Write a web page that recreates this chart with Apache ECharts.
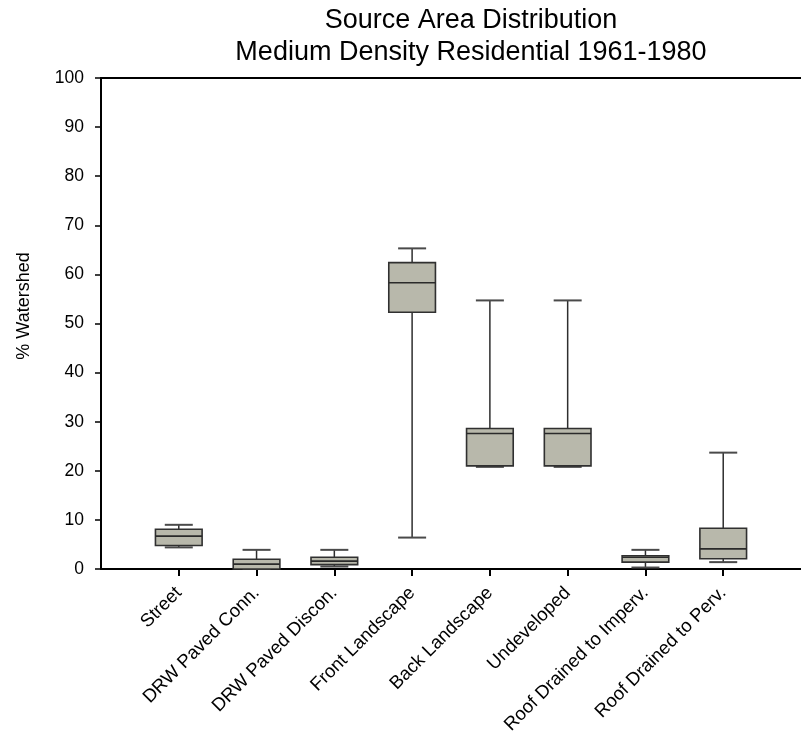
<!DOCTYPE html>
<html>
<head>
<meta charset="utf-8">
<script src="https://cdn.jsdelivr.net/npm/echarts@6/dist/echarts.min.js"></script>
<style>
  html, body { margin: 0; padding: 0; background: #ffffff; }
  #chart { width: 801px; height: 740px; }
</style>
</head>
<body>
<div id="chart"></div>
<script>
// Chart text
const titleLine1 = 'Source Area Distribution';
const titleLine2 = 'Medium Density Residential 1961-1980';
const yAxisTitle = '% Watershed';

// Source area categories (x axis)
const categories = [
  'Street',
  'DRW Paved Conn.',
  'DRW Paved Discon.',
  'Front Landscape',
  'Back Landscape',
  'Undeveloped',
  'Roof Drained to Imperv.',
  'Roof Drained to Perv.'
];

// Box statistics, % of watershed
const lowWhisker  = [4.4, 0.0, 0.5,  6.4, 20.8, 20.8, 0.3,  1.4];
const lowerQuart  = [4.8, 0.0, 0.9, 52.3, 21.0, 21.0, 1.4,  2.1];
const medians     = [6.7, 1.0, 1.6, 58.3, 27.6, 27.6, 2.4,  4.1];
const upperQuart  = [8.1, 2.0, 2.4, 62.4, 28.6, 28.6, 2.7,  8.3];
const highWhisker = [9.0, 3.9, 3.9, 65.3, 54.7, 54.7, 3.9, 23.7];

// Y axis ticks
const yMin = 0;
const yMax = 100;
const yStep = 10;

const FONT = '"Liberation Sans", Arial, Helvetica, sans-serif';
const categoryIdx = categories.map((c, i) => i);
const boxData = categories.map((c, i) => [
  i, lowWhisker[i], lowerQuart[i], medians[i], upperQuart[i], highWhisker[i]
]);

// One box-and-whisker glyph per category, placed through the axis scales
function renderBox(params, api) {
  const xv = api.value(0);
  const unit = api.size([1, 0])[0];
  const boxHalf = unit * 0.30;
  const capHalf = unit * 0.18;
  const pt = (k) => api.coord([xv, api.value(k)]);
  const lo = pt(1), q1 = pt(2), md = pt(3), q3 = pt(4), hi = pt(5);
  const cx = lo[0];
  const whisk = { stroke: '#2e2e2e', lineWidth: 1.5 };
  const cap = { stroke: '#4a4a4a', lineWidth: 2 };
  return {
    type: 'group',
    children: [
      { type: 'line', shape: { x1: cx, y1: hi[1], x2: cx, y2: q3[1] }, style: whisk },
      { type: 'line', shape: { x1: cx - capHalf, y1: hi[1], x2: cx + capHalf, y2: hi[1] }, style: cap },
      { type: 'line', shape: { x1: cx, y1: q1[1], x2: cx, y2: lo[1] }, style: whisk },
      { type: 'line', shape: { x1: cx - capHalf, y1: lo[1], x2: cx + capHalf, y2: lo[1] }, style: cap },
      {
        type: 'rect',
        shape: { x: cx - boxHalf, y: q3[1], width: boxHalf * 2, height: q1[1] - q3[1] },
        style: { fill: '#b8b8ab', stroke: '#303030', lineWidth: 1.6 }
      },
      { type: 'line', shape: { x1: cx - boxHalf, y1: md[1], x2: cx + boxHalf, y2: md[1] }, style: { stroke: '#2a2a2a', lineWidth: 1.6 } }
    ]
  };
}

const chart = echarts.init(document.getElementById('chart'), null, { renderer: 'canvas' });

chart.setOption({
  backgroundColor: '#ffffff',
  animation: false,
  textStyle: { fontFamily: FONT },
  graphic: [
    { type: 'text', x: 471, y: 21, style: { text: titleLine1, font: '27px ' + FONT, fill: '#000', textAlign: 'center', textVerticalAlign: 'middle' } },
    { type: 'text', x: 471, y: 53, style: { text: titleLine2, font: '27px ' + FONT, fill: '#000', textAlign: 'center', textVerticalAlign: 'middle' } },
    { type: 'text', x: 24, y: 306, rotation: Math.PI / 2, style: { text: yAxisTitle, font: '18px ' + FONT, fill: '#000', textAlign: 'center', textVerticalAlign: 'middle' } }
  ],
  grid: { left: 101, right: -1, top: 78, bottom: 171, containLabel: false },
  xAxis: [
    {
      type: 'value',
      position: 'bottom',
      min: -1,
      max: 8,
      interval: 1,
      splitLine: { show: false },
      axisLine: { show: true, onZero: false, lineStyle: { color: '#000', width: 2 } },
      axisTick: { show: true, inside: false, length: 7, customValues: categoryIdx, lineStyle: { color: '#000', width: 2 } },
      axisLabel: {
        show: true,
        customValues: categoryIdx,
        formatter: (v) => categories[v] || '',
        rotate: 45,
        margin: 21,
        color: '#000',
        fontSize: 18.5,
        fontFamily: FONT
      }
    },
    {
      type: 'value',
      position: 'top',
      min: -1,
      max: 8,
      interval: 1,
      splitLine: { show: false },
      axisLine: { show: true, onZero: false, lineStyle: { color: '#000', width: 2 } },
      axisTick: { show: false },
      axisLabel: { show: false }
    }
  ],
  yAxis: {
    type: 'value',
    min: yMin,
    max: yMax,
    interval: yStep,
    splitLine: { show: false },
    axisLine: { show: true, onZero: false, lineStyle: { color: '#000', width: 2 } },
    axisTick: { show: true, inside: false, length: 6, lineStyle: { color: '#000', width: 1.5 } },
    axisLabel: { color: '#000', fontSize: 17.5, margin: 17, fontFamily: FONT }
  },
  series: [
    {
      type: 'custom',
      xAxisIndex: 0,
      yAxisIndex: 0,
      renderItem: renderBox,
      encode: { x: 0, y: [1, 2, 3, 4, 5] },
      data: boxData,
      clip: false
    }
  ]
});
</script>
</body>
</html>
